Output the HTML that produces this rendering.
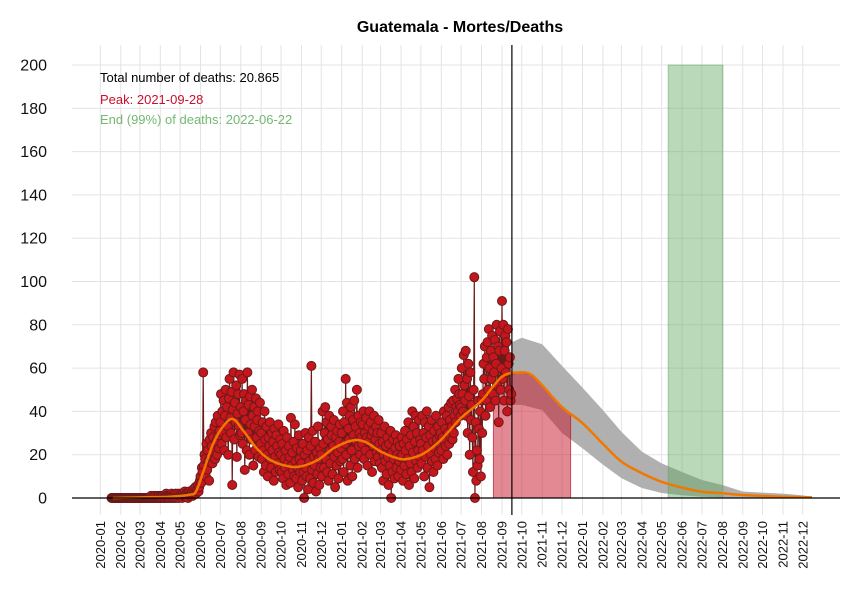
<!DOCTYPE html>
<html><head><meta charset="utf-8">
<style>
body{margin:0;background:#fff;font-family:"Liberation Sans",sans-serif;}
svg{display:block}
</style></head>
<body>
<svg id="chart" width="850" height="600" xmlns="http://www.w3.org/2000/svg">
<text x="460" y="32" text-anchor="middle" font-weight="bold" font-size="16">Guatemala - Mortes/Deaths</text>
<g id="grid"></g>
<g id="bands"></g>
<g id="series"></g>
<g id="axes"></g>
<text x="100" y="82" font-size="13" fill="#000">Total number of deaths: 20.865</text>
<text x="100" y="104" font-size="13" fill="#c8102e">Peak: 2021-09-28</text>
<text x="100" y="124" font-size="13" fill="#74b874">End (99%) of deaths: 2022-06-22</text>
</svg>
<script>
const NS="http://www.w3.org/2000/svg";
const startDate="2020-01-18";
const deaths=[
0,0,0,0,0,0,0,0,0,0,0,0,0,0,
0,0,0,0,0,0,0,0,0,0,0,0,0,0,0,0,0,0,0,0,0,0,0,0,0,0,0,0,0,
0,0,0,0,0,0,0,0,0,0,0,0,0,0,0,0,0,1,0,0,0,1,0,0,1,0,0,1,0,1,0,
0,1,0,1,1,0,0,1,0,2,1,0,1,0,1,1,0,2,1,0,1,0,1,2,0,1,1,2,0,1,
1,2,1,0,2,1,1,3,1,2,1,2,0,2,3,1,2,2,3,1,4,2,3,5,2,3,4,6,3,5,8,
10,7,14,12,58,15,20,18,10,25,13,22,17,8,27,19,30,24,16,28,21,33,18,35,26,20,38,29,23,31,
35,48,25,40,30,45,22,38,50,28,42,33,20,46,55,37,30,49,6,41,58,27,44,35,52,19,39,48,33,57,29,
42,30,55,25,40,48,13,36,45,22,58,30,43,20,47,34,27,50,38,15,42,33,22,46,28,36,40,19,31,44,25,
30,18,35,22,12,40,27,15,33,20,10,28,24,35,18,14,30,22,26,8,32,19,12,29,24,16,34,21,13,27,
20,12,25,9,31,18,14,22,6,28,16,11,24,19,7,37,15,21,13,26,10,34,17,9,23,14,5,29,18,12,22,
16,8,25,12,0,20,30,14,10,22,4,28,17,9,24,61,13,31,7,19,15,26,3,21,11,33,18,6,23,14,
20,10,40,25,14,30,42,18,35,12,27,8,38,22,16,33,29,11,24,36,19,5,28,15,31,21,9,26,34,17,23,
30,18,40,12,35,25,55,20,44,8,32,27,38,15,42,22,10,36,29,45,18,33,26,50,14,38,24,30,20,35,28,
25,34,40,18,30,22,37,28,15,33,26,40,20,35,29,12,31,24,38,17,27,33,21,30,19,36,25,16,
22,30,14,26,8,20,33,17,24,11,28,19,6,25,15,31,0,21,12,27,18,9,23,29,14,20,26,10,17,24,19,
13,28,20,8,25,15,31,22,11,27,18,35,6,24,16,29,12,40,21,33,9,26,38,17,30,14,22,36,19,27,
25,16,38,22,30,10,35,19,28,40,14,24,33,5,29,20,36,17,26,12,31,23,18,38,27,15,33,21,29,25,30,
22,35,28,18,40,26,32,24,38,20,30,42,25,36,28,44,33,27,45,30,38,50,35,42,46,40,55,48,43,38,
42,60,48,40,66,52,45,68,38,55,30,62,47,20,58,36,43,28,12,50,102,0,35,8,22,15,45,32,18,40,10,
45,30,48,62,55,70,38,45,65,72,50,78,60,42,68,55,75,48,65,58,73,45,62,80,52,70,35,68,77,50,60,
91,55,80,45,68,75,58,72,40,78,62,50,65,45,48
];
const fitDates=["2020-01-20","2020-03-01","2020-04-15","2020-05-15","2020-05-25","2020-06-05","2020-06-20","2020-07-05","2020-07-20","2020-08-05","2020-08-25","2020-09-15","2020-10-15","2020-11-05","2020-11-28","2020-12-20","2021-01-16","2021-02-05","2021-03-01","2021-03-25","2021-04-10","2021-05-05","2021-06-01","2021-07-01","2021-08-01","2021-09-01","2021-09-28","2021-10-15","2021-11-01","2021-12-01","2022-01-01","2022-02-01","2022-03-01","2022-04-01","2022-05-01","2022-06-01","2022-07-01","2022-08-01","2022-09-01","2022-10-01","2022-11-01","2022-12-15"];
const fitValues=[0,0.3,0.6,1.5,3,12,25,33,36.5,31,23,17.5,14.5,15,18,23,26.5,26,21.5,18.5,18,20.5,27,37,45,56,58,57,52,42,34.6,25,16.8,11.5,7.5,4.8,2.9,2.2,1.4,1,0.6,0.3];
const bandDates=["2021-09-16","2021-10-01","2021-11-01","2021-12-01","2022-01-01","2022-02-01","2022-03-01","2022-04-01","2022-05-01","2022-06-01","2022-07-01","2022-08-01","2022-09-01","2022-10-01","2022-11-01","2022-12-01","2022-12-15"];
const bandUpper=[72,74,71,61,51,40.6,30.6,21.4,16,12,8.3,6,3,2.5,2,1.2,0.6];
const bandLower=[43,43,40.6,30,23,15.4,9.2,4.6,2.3,1.2,0.6,0.3,0.1,0.1,0,0,0];
const peakStart="2021-08-19", peakEnd="2021-12-14";
const endStart="2022-05-11", endEnd="2022-08-02";
const todayLine="2021-09-16";
const yTicks=[0,20,40,60,80,100,120,140,160,180,200];
const monthLabels=["2020-01","2020-02","2020-03","2020-04","2020-05","2020-06","2020-07","2020-08","2020-09","2020-10","2020-11","2020-12","2021-01","2021-02","2021-03","2021-04","2021-05","2021-06","2021-07","2021-08","2021-09","2021-10","2021-11","2021-12","2022-01","2022-02","2022-03","2022-04","2022-05","2022-06","2022-07","2022-08","2022-09","2022-10","2022-11","2022-12"];

const T0=Date.UTC(2020,0,1);
function dayOf(s){const p=s.split("-").map(Number);return (Date.UTC(p[0],p[1]-1,p[2]||1)-T0)/86400000;}
function X(d){return 100.3+d*0.6596;}
function Y(v){return 498-v*2.165;}
const L=72,R=840,TOP=45,BOT=515;
function mk(tag,attrs,parent){const e=document.createElementNS(NS,tag);for(const k in attrs)e.setAttribute(k,attrs[k]);parent.appendChild(e);return e;}
const grid=document.getElementById("grid"),bands=document.getElementById("bands"),series=document.getElementById("series"),axes=document.getElementById("axes");

yTicks.forEach(v=>{
  const ln=mk("line",{x1:L,x2:R,y1:Y(v),y2:Y(v),stroke:"#e3e3e3","stroke-width":1},grid);
  
  
  const t=mk("text",{x:47,y:Y(v)+5.5,"text-anchor":"end","font-size":16,fill:"#111"},axes);
  t.textContent=v;
  
  
});
monthLabels.forEach(m=>{
  const x=X(dayOf(m+"-01"));
  const ln=mk("line",{x1:x,x2:x,y1:TOP,y2:BOT,stroke:"#e3e3e3","stroke-width":1},grid);
  
  
  const t=mk("text",{x:0,y:0,"text-anchor":"end","font-size":13,fill:"#111",transform:`translate(${x+4.5},521) rotate(-90)`},axes);
  t.textContent=m;
  
  
});

// smooth curve helper (Catmull-Rom)
function smoothPath(pts){let d=`M${pts[0][0]},${pts[0][1]}`;for(let i=0;i<pts.length-1;i++){const p0=pts[Math.max(0,i-1)],p1=pts[i],p2=pts[i+1],p3=pts[Math.min(pts.length-1,i+2)];const c1=[p1[0]+(p2[0]-p0[0])/6,p1[1]+(p2[1]-p0[1])/6],c2=[p2[0]-(p3[0]-p1[0])/6,p2[1]-(p3[1]-p1[1])/6];d+=`C${c1[0]},${c1[1]} ${c2[0]},${c2[1]} ${p2[0]},${p2[1]}`;}return d;}
function interp(dates,vals,d){const ds=dates.map(dayOf);if(d<=ds[0])return vals[0];for(let i=0;i<ds.length-1;i++){if(d<=ds[i+1]){const t=(d-ds[i])/(ds[i+1]-ds[i]);return vals[i]+t*(vals[i+1]-vals[i]);}}return vals[vals.length-1];}

// gray band
const up=bandDates.map((d,i)=>[X(dayOf(d)),Y(bandUpper[i])]);
const lo=bandDates.map((d,i)=>[X(dayOf(d)),Y(bandLower[i])]).reverse();
const band=mk("polygon",{points:up.concat(lo).map(p=>p.join(",")).join(" "),fill:"#b0b0b0"},bands);



// peak area under fit
const ps=dayOf(peakStart),pe=dayOf(peakEnd);let pk=[[X(ps),Y(0)]];
for(let d=ps;d<=pe;d+=2)pk.push([X(d),Y(interp(fitDates,fitValues,d))]);
pk.push([X(pe),Y(interp(fitDates,fitValues,pe))],[X(pe),Y(0)]);
const peak=mk("polygon",{points:pk.map(p=>p.join(",")).join(" "),fill:"rgba(200,20,40,0.5)",stroke:"rgba(190,20,40,0.7)","stroke-width":1},bands);



// end band
const es=X(dayOf(endStart)),ee=X(dayOf(endEnd));
const endR=mk("rect",{x:es,y:Y(200),width:ee-es,height:Y(0)-Y(200),fill:"rgba(100,170,100,0.45)",stroke:"rgba(100,160,100,0.5)"},bands);



// axis line
const ax=mk("line",{x1:L,x2:R,y1:Y(0),y2:Y(0),stroke:"#000","stroke-width":1.2},axes);



// data line + points
const d0=dayOf(startDate);
const lp=deaths.map((v,i)=>`${X(d0+i)},${Y(v)}`).join(" ");
const pl=mk("polyline",{points:lp,fill:"none",stroke:"#6b1a1a","stroke-width":1.2},series);


deaths.forEach((v,i)=>{
  const c=mk("circle",{cx:X(d0+i),cy:Y(v),r:4.5,fill:"#c4161c",stroke:"#6b1a1a","stroke-width":1},series);
  
  
});

// fit curve
const fp=fitDates.map((d,i)=>[X(dayOf(d)),Y(fitValues[i])]);
const fit=mk("path",{d:smoothPath(fp),fill:"none",stroke:"#f07800","stroke-width":2.5},series);



// today line
const tx=X(dayOf(todayLine));
const tl=mk("line",{x1:tx,x2:tx,y1:TOP,y2:BOT,stroke:"#000","stroke-width":1.2},axes);


</script>
</body></html>
